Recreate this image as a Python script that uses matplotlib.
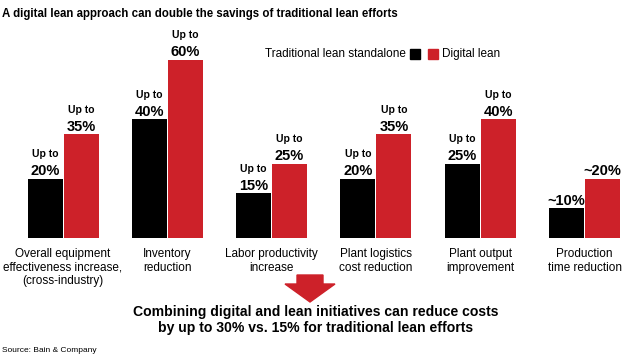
import matplotlib.pyplot as plt
from matplotlib.patches import Polygon
import numpy as np

plt.rcParams['font.family'] = ['Liberation Sans', 'DejaVu Sans']

categories = ["Overall equipment\neffectiveness increase,\n(cross-industry)",
              "Inventory\nreduction",
              "Labor productivity\nincrease",
              "Plant logistics\ncost reduction",
              "Plant output\nimprovement",
              "Production\ntime reduction"]
traditional = [20, 40, 15, 20, 25, 10]
digital = [35, 60, 25, 35, 40, 20]
prefixes = ["Up to", "Up to", "Up to", "Up to", "Up to", "~"]

RED = "#CD2129"
W, H = 632, 360

fig = plt.figure(figsize=(6.32, 3.6), dpi=100)
# axes: baseline at y=238 px from top, 2.97 px per percent
ax = fig.add_axes([0, 122 / H, 1, 200 / H])
ax.set_ylim(0, 200 / 2.97)
step = 104.3
ax.set_xlim(-63 / step, (W - 63) / step)
ax.axis("off")

x = np.arange(len(categories))
bw = 35 / step
off = 18 / step
ax.bar(x - off, traditional, bw, color="black")
ax.bar(x + off, digital, bw, color=RED)

for xs, vals in [(x - off, traditional), (x + off, digital)]:
    for xi, v, p in zip(xs, vals, prefixes):
        if p == "~":
            ax.annotate("~%d%%" % v, (xi, v), xytext=(0, 2.5), textcoords="offset points",
                        ha="center", va="baseline", fontsize=10.5, fontweight="bold")
        else:
            ax.annotate("%d%%" % v, (xi, v), xytext=(0, 2.5), textcoords="offset points",
                        ha="center", va="baseline", fontsize=10.5, fontweight="bold")
            ax.annotate(p, (xi, v), xytext=(0, 15.5), textcoords="offset points",
                        ha="center", va="baseline", fontsize=7.5, fontweight="bold")

for xi, c in zip(x, categories):
    ax.annotate(c, (xi, 0), xytext=(0, -7), textcoords="offset points",
                ha="center", va="top", fontsize=8.5, linespacing=1.2)

# title
fig.text(2 / W, 1 - 14 / H, "A digital lean approach can double the savings of traditional lean efforts",
         ha="left", va="center", fontsize=8.3, fontweight="bold")

# legend
fig.text(406 / W, 1 - 54 / H, "Traditional lean standalone", ha="right", va="center", fontsize=8.5)
fig.patches.append(plt.Rectangle((410 / W, 1 - 59 / H), 10 / W, 10 / H,
                                 transform=fig.transFigure, color="black"))
fig.patches.append(plt.Rectangle((428 / W, 1 - 59 / H), 10 / W, 10 / H,
                                 transform=fig.transFigure, color=RED))
fig.text(442 / W, 1 - 54 / H, "Digital lean", ha="left", va="center", fontsize=8.5)

# arrow
pts = [(297, 275), (323, 275), (323, 284), (335, 284), (310, 302), (285, 284), (297, 284)]
arrow = Polygon([(px / W, 1 - py / H) for px, py in pts], closed=True,
                transform=fig.transFigure, color=RED)
fig.patches.append(arrow)

fig.text(316 / W, 1 - 320 / H,
         "Combining digital and lean initiatives can reduce costs\nby up to 30% vs. 15% for traditional lean efforts",
         ha="center", va="center", fontsize=10.1, fontweight="bold", linespacing=1.15)

fig.text(2 / W, 1 - 350 / H, "Source: Bain & Company", ha="left", va="center", fontsize=6)

fig.savefig("out.png", dpi=100)
